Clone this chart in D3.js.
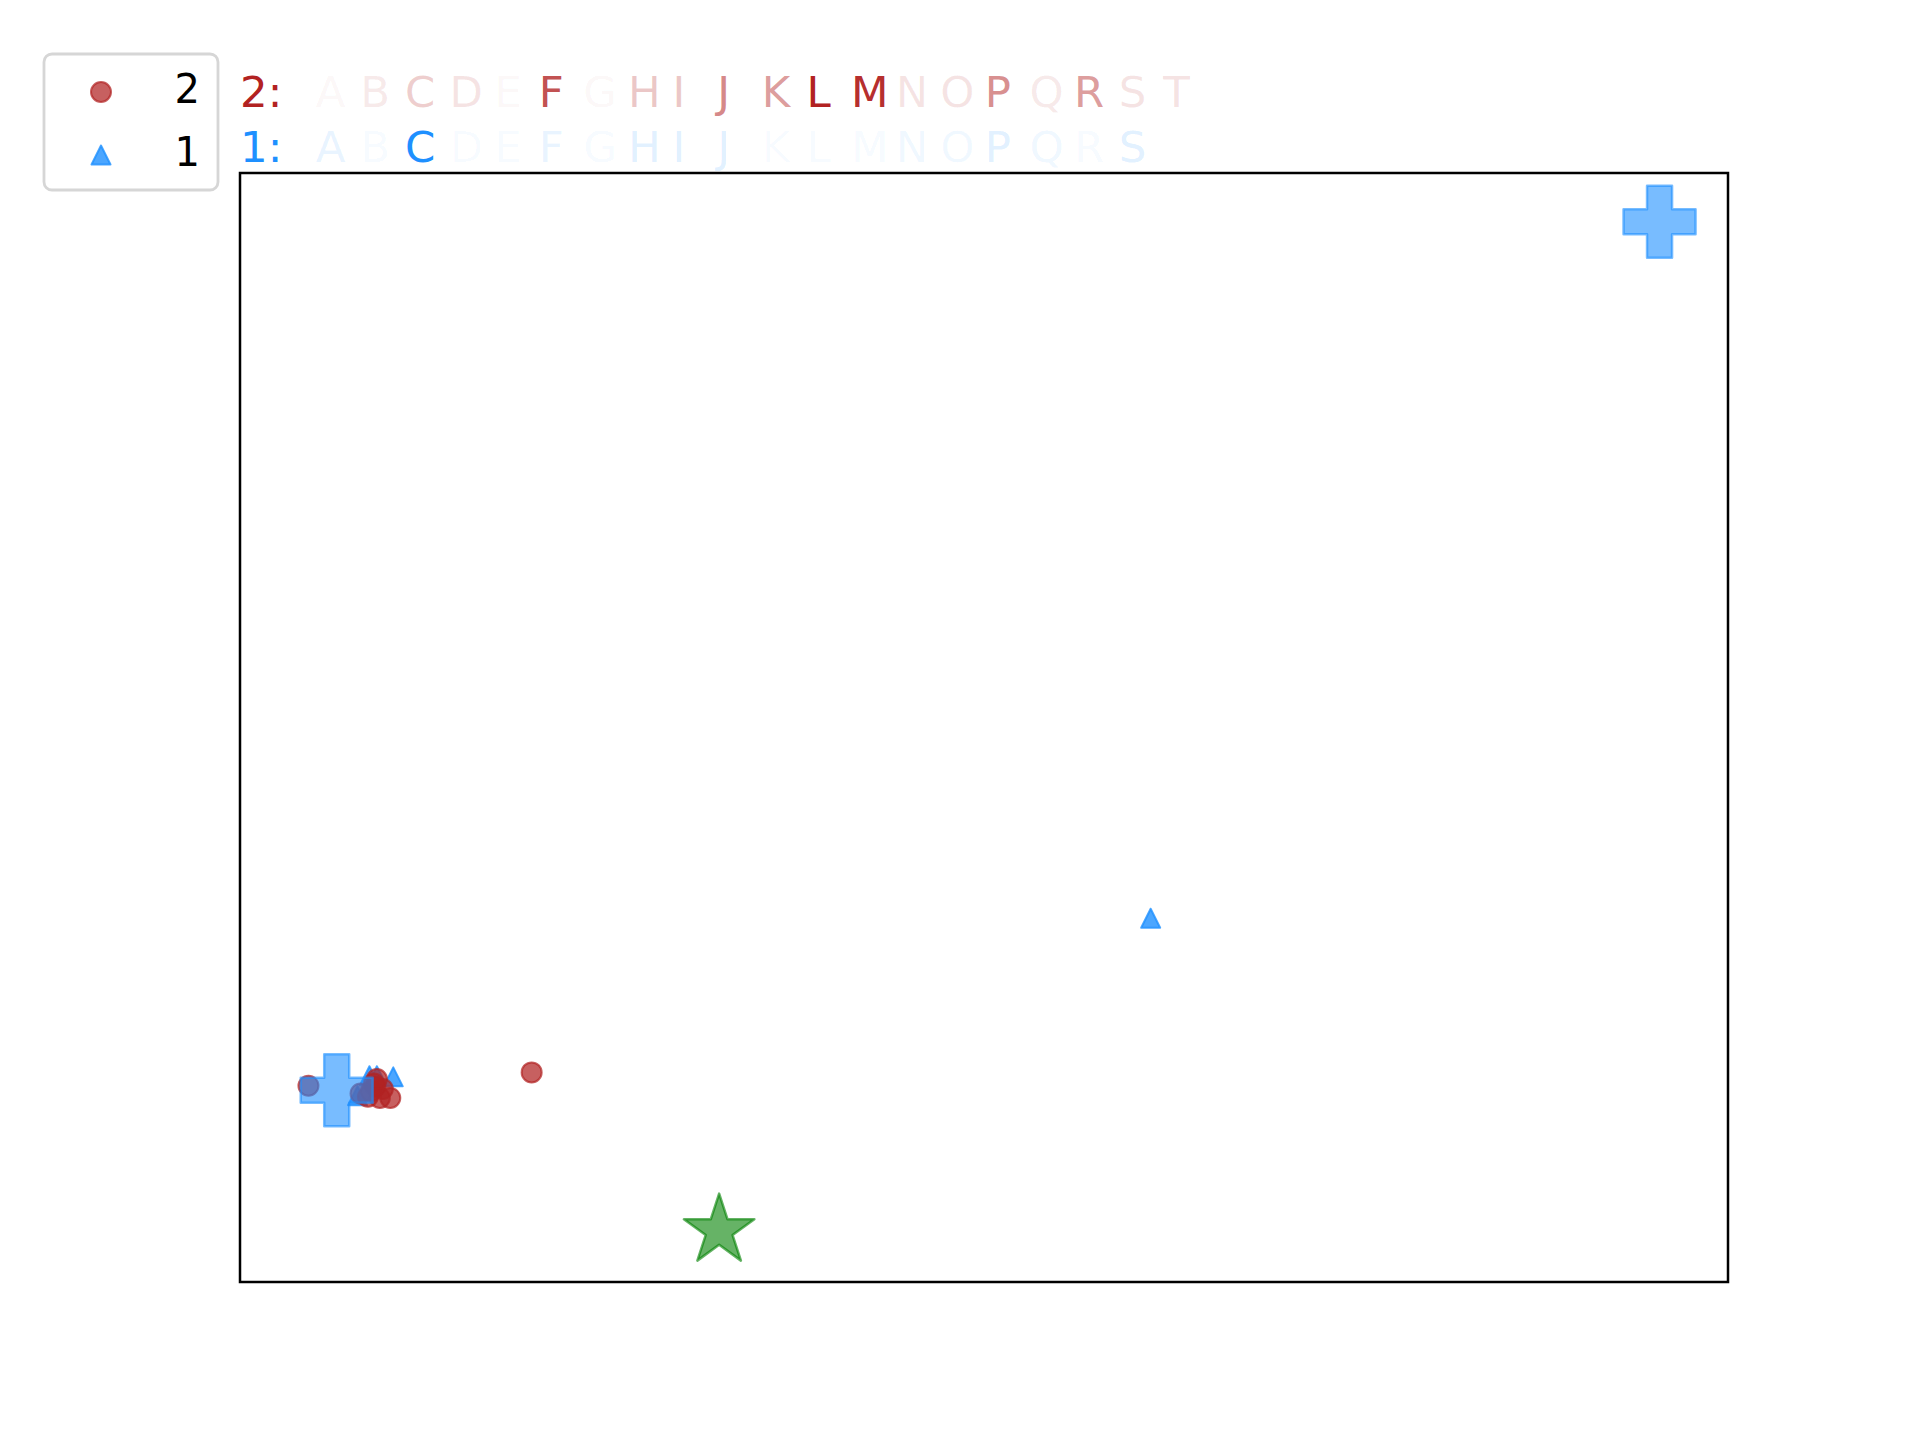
<!DOCTYPE html>
<html>
<head>
<meta charset="utf-8">
<script src="https://cdn.jsdelivr.net/npm/d3@7"></script>
<style>
  html, body { margin: 0; padding: 0; background: #fff; }
  svg text { font-family: "DejaVu Sans", sans-serif; }
</style>
</head>
<body>
<div id="chart"></div>
<script>
// letter rows shown above the plot, with per-letter weights (opacity)
const letters = "ABCDEFGHIJKLMNOPQRST".split("");
const weights2 = [0.05, 0.1, 0.22, 0.12, 0.05, 0.8, 0.05, 0.25, 0.25, 0.55, 0.45, 1.0, 0.95, 0.12, 0.12, 0.5, 0.1, 0.45, 0.12, 0.15];
const weights1 = [0.1, 0.04, 1.0, 0.03, 0.04, 0.1, 0.05, 0.15, 0.15, 0.15, 0.03, 0.04, 0.05, 0.07, 0.06, 0.15, 0.08, 0.05, 0.15, 0.02];

// series "2" (circles)
const circlesX = [19.6, 4.6, 8.1, 9.0, 9.1, 8.8, 9.6, 8.6, 9.4, 10.1, 9.2];
const circlesY = [18.9, 17.7, 17.0, 17.9, 17.6, 17.2, 17.4, 16.7, 16.6, 16.6, 18.3];

// series "1" (triangles)
const trianglesX = [61.2, 8.7, 9.2, 10.3, 7.9];
const trianglesY = [32.8, 18.6, 18.6, 18.5, 16.8];

// centres (plus) and the star
const plusX = [95.4, 6.5];
const plusY = [95.6, 17.3];
const starX = [32.2];
const starY = [4.9];

const legendLabels = ["2", "1"];

const W = 1920, H = 1440;
const box = { left: 240, right: 1728, top: 173, bottom: 1282 };
const red = "#b22222", blue = "#1e90ff", green = "#008000";

const svg = d3.select("#chart").append("svg")
  .attr("width", W).attr("height", H)
  .attr("viewBox", [0, 0, W, H]);

const x = d3.scaleLinear().domain([0, 100]).range([box.left, box.right]);
const y = d3.scaleLinear().domain([0, 100]).range([box.bottom, box.top]);

const zip = (xs, ys) => xs.map((v, i) => ({ x: v, y: ys[i] }));

// marker paths
function triPath(h) {
  return `M0,${-h}L${-h},${h}L${h},${h}Z`;
}
function plusPath(h, t) {
  return `M${-t},${-h}H${t}V${-t}H${h}V${t}H${t}V${h}H${-t}V${t}H${-h}V${-t}H${-t}Z`;
}
const star = d3.symbol().type(d3.symbolStar).size(1540)();

const plot = svg.append("g");

plot.selectAll("path.s1")
  .data(zip(trianglesX, trianglesY))
  .join("path")
  .attr("class", "s1")
  .attr("transform", d => `translate(${x(d.x)},${y(d.y)})`)
  .attr("d", triPath(9.5))
  .attr("fill", blue).attr("fill-opacity", 0.8)
  .attr("stroke", blue).attr("stroke-opacity", 0.8).attr("stroke-width", 2)
  .attr("stroke-linejoin", "round");

plot.selectAll("circle.s2")
  .data(zip(circlesX, circlesY))
  .join("circle")
  .attr("class", "s2")
  .attr("cx", d => x(d.x)).attr("cy", d => y(d.y))
  .attr("r", 10)
  .attr("fill", red).attr("fill-opacity", 0.72)
  .attr("stroke", red).attr("stroke-opacity", 0.72).attr("stroke-width", 2);

plot.selectAll("path.plus")
  .data(zip(plusX, plusY))
  .join("path")
  .attr("class", "plus")
  .attr("transform", d => `translate(${x(d.x)},${y(d.y)})`)
  .attr("d", plusPath(36, 12.5))
  .attr("fill", blue).attr("fill-opacity", 0.6)
  .attr("stroke", blue).attr("stroke-opacity", 0.6).attr("stroke-width", 2.5)
  .attr("stroke-linejoin", "round");

plot.selectAll("path.star")
  .data(zip(starX, starY))
  .join("path")
  .attr("class", "star")
  .attr("transform", d => `translate(${x(d.x)},${y(d.y) + 3})`)
  .attr("d", star)
  .attr("fill", green).attr("fill-opacity", 0.6)
  .attr("stroke", green).attr("stroke-opacity", 0.6).attr("stroke-width", 2.5)
  .attr("stroke-linejoin", "round");

// axes frame (no ticks)
svg.append("rect")
  .attr("x", box.left).attr("y", box.top)
  .attr("width", box.right - box.left).attr("height", box.bottom - box.top)
  .attr("fill", "none").attr("stroke", "#000").attr("stroke-width", 2.5);

// letter rows, fixed pitch
const lx = d3.scalePoint().domain(letters).range([315.7, 1163.3]);
const rows = [
  { label: "2:", color: red, weights: weights2, baseline: 106.7 },
  { label: "1:", color: blue, weights: weights1, baseline: 161.7 }
];
rows.forEach(r => {
  const g = svg.append("g").attr("font-size", 43.5).attr("fill", r.color);
  g.append("text")
    .attr("x", box.left).attr("y", r.baseline)
    .text(r.label);
  g.selectAll("text.letter")
    .data(letters)
    .join("text")
    .attr("class", "letter")
    .attr("x", d => lx(d)).attr("y", r.baseline)
    .attr("fill-opacity", (d, i) => r.weights[i])
    .text(d => d);
});

// legend
const lg = svg.append("g");
lg.append("rect")
  .attr("x", 44).attr("y", 54).attr("width", 174).attr("height", 136)
  .attr("rx", 8).attr("fill", "#fff")
  .attr("stroke", "#d6d6d6").attr("stroke-width", 2.8);
lg.append("circle")
  .attr("cx", 101).attr("cy", 92).attr("r", 10)
  .attr("fill", red).attr("fill-opacity", 0.72)
  .attr("stroke", red).attr("stroke-opacity", 0.72).attr("stroke-width", 2);
lg.append("path")
  .attr("transform", "translate(101,155)")
  .attr("d", triPath(9.5))
  .attr("fill", blue).attr("fill-opacity", 0.8)
  .attr("stroke", blue).attr("stroke-opacity", 0.8).attr("stroke-width", 2)
  .attr("stroke-linejoin", "round");
lg.selectAll("text.lab")
  .data(legendLabels)
  .join("text")
  .attr("class", "lab")
  .attr("x", 200).attr("y", (d, i) => 103 + i * 63)
  .attr("text-anchor", "end")
  .attr("font-size", 40).attr("fill", "#000")
  .text(d => d);
</script>
</body>
</html>
